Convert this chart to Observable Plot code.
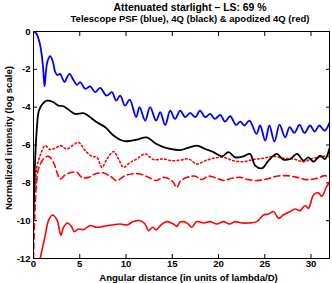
<!DOCTYPE html>
<html><head><meta charset="utf-8">
<script src="https://cdn.jsdelivr.net/npm/d3@7"></script>
<script src="https://cdn.jsdelivr.net/npm/@observablehq/plot@0.6"></script>
<style>
body{margin:0;background:#fff;width:332px;height:283px;overflow:hidden;font-family:"Liberation Sans",Arial,sans-serif;}
#t{width:332px;height:26px;box-sizing:border-box;padding-top:2px;padding-left:48px;text-align:center;font-weight:bold;color:#000;}
#t .a{font-size:10.4px;line-height:11px;}
#t .b{font-size:9.5px;line-height:11px;}
#chart svg{overflow:visible;}
</style></head>
<body>
<div id="t"><div class="a">Attenuated starlight – LS: 69 %</div><div class="b">Telescope PSF (blue), 4Q (black) &amp; apodized 4Q (red)</div></div>
<div id="chart"></div>
<script>
const xTicks = [0, 5, 10, 15, 20, 25, 30];
const yTicks = [-12, -10, -8, -6, -4, -2, 0];
const xLabel = "Angular distance (in units of lambda/D)";
const yLabel = "Normalized intensity (log scale)";

const blueX = [0,0.3,0.55,0.75,0.92,1.05,1.19,1.35,1.5,1.8,2.1,2.35,2.6,2.89,3.1,3.35,3.6,3.9,4.3,4.7,5.05,5.6,6.13,6.67,7.2,7.9,8.47,8.94,9.37,9.9,10.4,11.1,11.46,12.07,12.6,13.26,13.7,14.24,14.78,15.3,15.86,16.4,16.94,17.5,18.0,18.56,19.1,19.6,20.2,20.7,21.26,21.9,22.35,22.8,23.35,24.1,24.5,25.05,25.5,26.05,26.6,27.2,27.7,28.2,28.76,29.3,29.9,30.4,30.9,31.46,32];
const blueY = [0,-0.1,-0.4,-0.8,-1.35,-2.0,-2.9,-2.1,-1.6,-1.3,-1.6,-2.15,-2.3,-2.24,-2.45,-2.68,-2.45,-2.24,-2.55,-2.82,-2.68,-3.03,-2.9,-3.21,-2.98,-3.39,-3.21,-3.65,-3.39,-3.92,-3.6,-4.53,-4.0,-4.71,-4.0,-4.71,-4.27,-4.94,-4.18,-4.62,-4.18,-4.53,-4.3,-4.53,-4.18,-4.53,-4.36,-4.62,-4.41,-4.76,-4.48,-4.94,-4.76,-4.97,-4.71,-5.41,-4.97,-5.77,-4.97,-5.82,-4.92,-5.59,-5.06,-5.36,-4.94,-5.36,-4.97,-5.29,-4.97,-5.24,-4.83];

const blackX = [0,0.1,0.2,0.35,0.54,0.8,1.08,1.4,1.62,2.16,2.7,3.24,3.78,4.5,5.4,6.13,6.85,7.75,8.65,9.37,9.9,10.45,11.18,12.26,13.2,14.0,14.78,15.86,16.6,17.66,18.56,19.46,20.37,21.08,21.8,22.7,23.4,23.97,24.7,25.4,26.3,27.0,27.75,28.5,29.2,29.7,30.27,31.0,31.5,32];
const blackY = [-9.8,-8,-6.5,-5.2,-4.27,-3.95,-3.77,-3.66,-3.65,-3.74,-3.92,-3.95,-4.13,-4.36,-4.32,-4.53,-4.8,-5.06,-5.5,-5.72,-5.8,-5.78,-5.72,-5.6,-5.92,-6.1,-6.21,-6.27,-6.17,-6.03,-6.21,-6.38,-6.6,-6.38,-6.65,-6.6,-6.47,-7.09,-7.23,-6.83,-6.47,-6.77,-6.74,-6.47,-6.83,-6.65,-6.88,-6.56,-6.74,-6.17];

const dotX = [0,0.15,0.35,0.72,1.26,1.8,2.35,2.9,3.6,4.3,4.86,5.6,6.3,6.85,7.4,7.94,8.65,9.2,9.73,10.45,11.18,12.07,12.97,14.05,14.96,15.86,16.76,17.66,18.56,19.46,20.54,21.6,22.7,23.78,24.86,25.95,27.0,28.1,29.2,30.27,31.35,32];
const dotY = [-9.2,-8.2,-7.2,-6.56,-6.03,-6.24,-6.17,-6.03,-6.21,-6.0,-5.86,-6.3,-6.6,-6.65,-7.18,-6.74,-6.35,-6.74,-7.18,-6.92,-6.74,-6.47,-6.77,-6.74,-6.83,-6.8,-6.74,-7.0,-6.83,-6.7,-6.65,-6.83,-6.88,-6.77,-6.7,-6.6,-6.7,-6.74,-6.88,-6.7,-6.6,-6.6];

const dashX = [0,0.12,0.3,0.54,1.08,1.62,2.16,2.53,2.89,3.43,4.15,4.69,5.23,5.95,6.67,7.57,8.3,9.0,9.9,10.64,11.53,12.43,13.3,14.05,14.96,15.5,15.86,16.6,17.5,18.2,18.9,19.83,20.54,21.45,22.35,23.25,24.15,25.2,26.3,27.4,28.5,29.56,30.64,31.5,32];
const dashY = [-12,-10,-8.2,-7.27,-6.74,-6.6,-6.92,-7.44,-7.8,-7.58,-7.44,-7.44,-7.71,-7.71,-7.53,-7.48,-7.65,-7.88,-7.62,-7.53,-7.53,-7.71,-7.88,-7.71,-7.88,-8.24,-7.93,-7.71,-7.65,-7.83,-7.65,-7.76,-7.88,-7.76,-7.71,-7.83,-7.88,-7.8,-7.65,-7.62,-7.71,-7.83,-7.76,-7.62,-7.71];

const apoX = [0.72,0.9,1.26,1.62,2.05,2.53,2.96,3.24,3.68,4.15,4.4,4.86,5.4,6.13,6.85,7.57,8.47,9.37,10.1,10.8,11.53,12.07,12.43,12.9,13.26,13.88,14.42,15.14,15.5,15.86,16.6,17.1,17.66,18.4,19.1,19.83,20.54,21.2,21.8,22.5,23.25,24.15,24.86,25.4,25.95,26.5,27.0,27.75,28.3,28.8,29.37,29.73,30.27,30.8,31.18,31.64,32];
const apoY = [-12,-11.6,-10.8,-10.0,-9.7,-9.95,-10.76,-10.35,-10.12,-10.35,-10.58,-10.44,-10.48,-10.26,-10.35,-10.3,-10.23,-10.18,-10.23,-10.05,-10.0,-10.18,-10.53,-10.35,-10.48,-10.18,-10.05,-10.18,-10.3,-10.07,-10.12,-10.35,-10.05,-10.12,-10.05,-10.18,-10.05,-10.18,-10.05,-10.12,-10.12,-10.05,-9.7,-9.65,-9.52,-9.88,-9.7,-9.52,-9.38,-9.47,-9.2,-9.35,-8.64,-8.53,-8.71,-8.24,-7.97];

const zip = (xs, ys) => xs.map((x, i) => ({x, y: ys[i]}));
const fmt = d => String(d);

const chart = Plot.plot({
  width: 332, height: 257,
  marginLeft: 33, marginRight: 3, marginTop: 5, marginBottom: 25,
  x: {domain: [0, 32]},
  y: {domain: [-12, 0]},
  style: {fontFamily: "'Liberation Sans', Arial, sans-serif", fontSize: "9.6px", fontWeight: "bold", background: "white", color: "black"},
  marks: [
    Plot.axisX({anchor: "bottom", ticks: xTicks, tickSize: -4, tickPadding: 6, tickFormat: fmt, label: null}),
    Plot.axisX({anchor: "top", ticks: xTicks, tickSize: -4, tickFormat: () => "", label: null}),
    Plot.axisY({anchor: "left", ticks: yTicks, tickSize: -4, tickPadding: 7, tickFormat: fmt, label: null}),
    Plot.axisY({anchor: "right", ticks: yTicks, tickSize: -4, tickFormat: () => "", label: null}),
    Plot.line(zip(apoX, apoY), {x: "x", y: "y", stroke: "#ff0000", strokeWidth: 1.6, curve: "catmull-rom", clip: true}),
    Plot.line(zip(dashX, dashY), {x: "x", y: "y", stroke: "#ff0000", strokeWidth: 1.6, strokeDasharray: "6,3.5", curve: "catmull-rom", clip: true}),
    Plot.line(zip(dotX, dotY), {x: "x", y: "y", stroke: "#ff0000", strokeWidth: 1.6, strokeDasharray: "1.6,2.6", curve: "catmull-rom", clip: true}),
    Plot.line(zip(blackX, blackY), {x: "x", y: "y", stroke: "#000000", strokeWidth: 1.8, curve: "catmull-rom", clip: true}),
    Plot.line(zip(blueX, blueY), {x: "x", y: "y", stroke: "#0000ff", strokeWidth: 1.8, curve: "catmull-rom", clip: true}),
    Plot.frame({stroke: "black", strokeWidth: 1}),
    Plot.text([xLabel], {frameAnchor: "bottom", textAnchor: "middle", lineAnchor: "middle", dy: 19.5, dx: 7, fontSize: 9.6, fontWeight: "bold", fill: "black"}),
    Plot.text([yLabel], {frameAnchor: "left", textAnchor: "middle", lineAnchor: "middle", dx: -25, dy: -7, rotate: -90, fontSize: 9.6, fontWeight: "bold", fill: "black"})
  ]
});
document.getElementById("chart").appendChild(chart);
</script>
</body></html>
